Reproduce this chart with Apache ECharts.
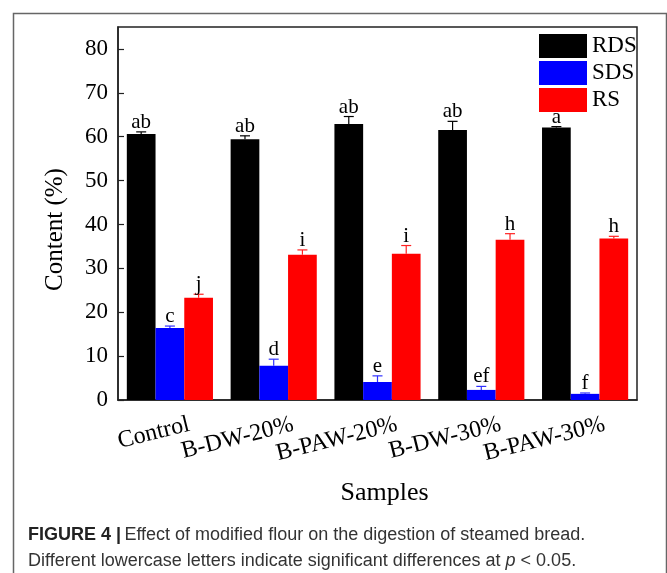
<!DOCTYPE html>
<html>
<head>
<meta charset="utf-8">
<script src="https://cdn.jsdelivr.net/npm/echarts@6/dist/echarts.min.js"></script>
<style>
html,body{margin:0;padding:0;background:#fff;}
#chart{width:667px;height:573px;}
</style>
</head>
<body>
<div id="chart"></div>
<script>
const categories = ['Control', 'B-DW-20%', 'B-PAW-20%', 'B-DW-30%', 'B-PAW-30%'];
const seriesNames = ['RDS', 'SDS', 'RS'];
const rdsValues = [60.6, 59.4, 62.9, 61.5, 62.1];
const rdsErrors = [0.5, 0.8, 1.7, 2.0, 0.2];
const rdsLetters = ['ab', 'ab', 'ab', 'ab', 'a'];
const sdsValues = [16.4, 7.8, 4.1, 2.3, 1.4];
const sdsErrors = [0.45, 1.5, 1.4, 0.8, 0.2];
const sdsLetters = ['c', 'd', 'e', 'ef', 'f'];
const rsValues = [23.3, 33.1, 33.3, 36.5, 36.8];
const rsErrors = [0.8, 1.1, 1.9, 1.4, 0.5];
const rsLetters = ['j', 'i', 'i', 'h', 'h'];
const yTicks = [0, 10, 20, 30, 40, 50, 60, 70, 80];

const colors = ['#000000', '#0000ff', '#ff0000'];
const errColors = ['#000000', '#3030ff', '#ff2020'];
const allValues = [rdsValues, sdsValues, rsValues];
const allErrors = [rdsErrors, sdsErrors, rsErrors];
const allLetters = [rdsLetters, sdsLetters, rsLetters];
const CAT_GAP = 0.17;
const SERIF = '"Liberation Serif", "Times New Roman", serif';
const SANS = '"Liberation Sans", Arial, sans-serif';

const chart = echarts.init(document.getElementById('chart'));

function errSeries(s) {
  return {
    type: 'custom',
    name: seriesNames[s] + ' err',
    z: 5,
    silent: true,
    data: categories.map((c, i) => [i, allValues[s][i], allErrors[s][i]]),
    encode: { x: 0, y: 1 },
    renderItem: function (params, api) {
      const i = api.value(0);
      const v = api.value(1);
      const e = api.value(2);
      const base = api.coord([i, v]);
      const top = api.coord([i, v + e]);
      const catW = api.size([1, 0])[0];
      const bw = catW * (1 - CAT_GAP) / 3;
      const x = base[0] + (s - 1) * bw;
      const capHalf = 5;
      const st = { stroke: errColors[s], lineWidth: 1.2 };
      return {
        type: 'group',
        children: [
          { type: 'line', shape: { x1: x, y1: base[1], x2: x, y2: top[1] }, style: st },
          { type: 'line', shape: { x1: x - capHalf, y1: top[1], x2: x + capHalf, y2: top[1] }, style: st },
          { type: 'text', style: { text: allLetters[s][params.dataIndex], x: x, y: top[1] + 1,
              textAlign: 'center', textVerticalAlign: 'bottom', fontFamily: SERIF, fontSize: 21, fill: '#000' } }
        ]
      };
    }
  };
}

const option = {
  animation: false,
  backgroundColor: '#ffffff',
  grid: { left: 118, right: 30, top: 27, bottom: 173, show: true, borderColor: '#222', borderWidth: 1.5, backgroundColor: 'transparent' },
  legend: {
    orient: 'vertical', left: 534, top: 29, itemWidth: 48, itemHeight: 24, itemGap: 3,
    icon: 'rect', data: seriesNames,
    textStyle: { fontFamily: SERIF, fontSize: 23, color: '#000' }
  },
  xAxis: {
    type: 'category', data: categories,
    name: 'Samples', nameLocation: 'middle', nameGap: 80,
    nameTextStyle: { fontFamily: SERIF, fontSize: 26, color: '#000', padding: [0, 0, 0, 14] },
    axisLine: { lineStyle: { color: '#222', width: 1.5 } },
    axisTick: { inside: true, alignWithLabel: true, length: 6, lineStyle: { color: '#222', width: 1.2 } },
    axisLabel: { interval: 0, rotate: 14, margin: 29, fontFamily: SERIF, fontSize: 24, color: '#000', padding: [0, -20, 0, 0] }
  },
  yAxis: {
    type: 'value', min: 0, max: 85, interval: 10,
    name: 'Content (%)', nameLocation: 'middle', nameGap: 50,
    nameTextStyle: { fontFamily: SERIF, fontSize: 25, color: '#000', padding: [0, 32, 0, 0] },
    splitLine: { show: false },
    axisLine: { show: true, lineStyle: { color: '#222', width: 1.5 } },
    axisTick: { show: true, inside: true, length: 6, lineStyle: { color: '#222', width: 1.2 } },
    axisLabel: { margin: 10, fontFamily: SERIF, fontSize: 23, color: '#000', showMaxLabel: false,
      formatter: function (v) { return yTicks.indexOf(v) >= 0 ? String(v) : ''; } }
  },
  series: [
    { type: 'bar', name: 'RDS', data: rdsValues, barGap: '0%', barCategoryGap: '17%', itemStyle: { color: colors[0] } },
    { type: 'bar', name: 'SDS', data: sdsValues, barGap: '0%', barCategoryGap: '17%', itemStyle: { color: colors[1] } },
    { type: 'bar', name: 'RS', data: rsValues, barGap: '0%', barCategoryGap: '17%', itemStyle: { color: colors[2] } },
    errSeries(0), errSeries(1), errSeries(2)
  ],
  graphic: [
    { type: 'rect', left: 11, top: 11, shape: { width: 653, height: 600 }, style: { fill: 'none', stroke: '#666', lineWidth: 1.5 }, z: -1 },
    { type: 'text', left: 28, top: 526, style: {
        text: '{b|FIGURE 4 |} {r|Effect of modified flour on the digestion of steamed bread.}',
        rich: {
          b: { fontFamily: SANS, fontSize: 18, fontWeight: 'bold', fill: '#222' },
          r: { fontFamily: SANS, fontSize: 18, fill: '#333' }
        } } },
    { type: 'text', left: 28, top: 552, style: {
        text: '{r|Different lowercase letters indicate significant differences at }{i|p}{r| < 0.05.}',
        rich: {
          r: { fontFamily: SANS, fontSize: 18, fill: '#333' },
          i: { fontFamily: SANS, fontSize: 18, fontStyle: 'italic', fill: '#333' }
        } } }
  ]
};
chart.setOption(option);
</script>
</body>
</html>
